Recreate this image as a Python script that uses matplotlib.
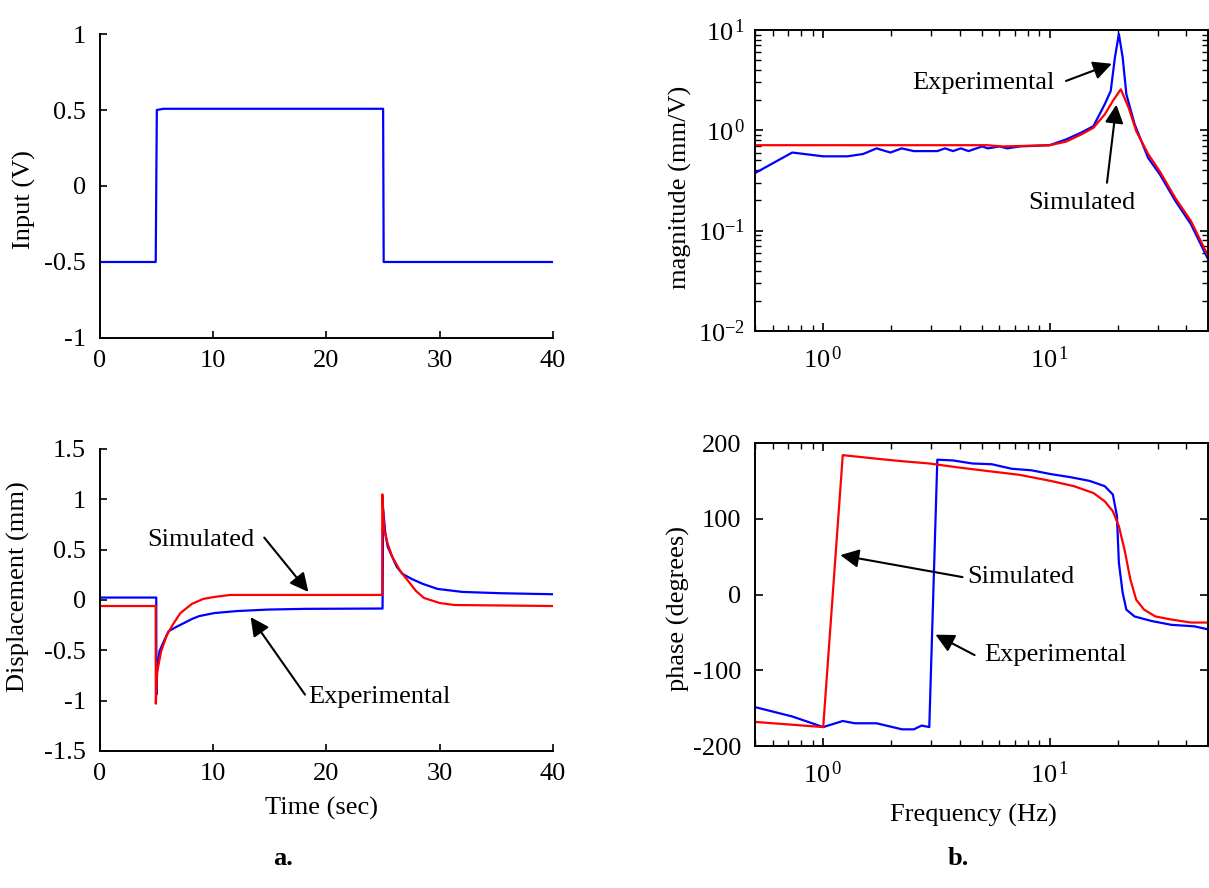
import matplotlib
matplotlib.use("Agg")
import matplotlib.pyplot as plt
import numpy as np
from matplotlib.ticker import LogLocator, NullFormatter, FuncFormatter

plt.rcParams['font.family'] = ['Liberation Serif', 'DejaVu Serif']
plt.rcParams['mathtext.fontset'] = 'custom'
plt.rcParams['mathtext.rm'] = 'Liberation Serif'
plt.rcParams['mathtext.it'] = 'Liberation Serif:italic'
plt.rcParams['axes.unicode_minus'] = False
plt.rcParams['font.size'] = 19

# step input (V)
t_in = [0, 4.92, 5.02, 5.6, 25.0, 25.05, 40]
v_in = [-0.5, -0.5, 0.5, 0.508, 0.508, -0.5, -0.5]

# displacement response (mm)
t_exp = [0, 4.97, 4.98, 5.05, 5.25, 5.6, 6.06, 6.7, 7.4, 8.1, 8.76, 10.1, 12.1,
         14.9, 18.2, 24.95, 25.0, 25.2, 25.4, 25.8, 26.2, 26.7, 27.5, 28.5, 29.8,
         32.0, 35.4, 40.0]
d_exp = [0.024, 0.024, -0.94, -0.70, -0.51, -0.42, -0.31, -0.27, -0.23, -0.19,
         -0.16, -0.13, -0.11, -0.095, -0.088, -0.085, 0.90, 0.66, 0.53, 0.43,
         0.33, 0.26, 0.21, 0.16, 0.11, 0.08, 0.067, 0.057]
t_sim = [0, 4.92, 4.93, 5.04, 5.4, 5.9, 6.4, 7.1, 8.1, 9.1, 10.1, 11.5, 24.92,
         24.93, 25.1, 25.4, 25.8, 26.5, 27.2, 27.9, 28.6, 30.0, 31.3, 40.0]
d_sim = [-0.06, -0.06, -1.03, -0.72, -0.51, -0.35, -0.25, -0.13, -0.04, 0.01,
         0.03, 0.05, 0.05, 1.05, 0.70, 0.56, 0.43, 0.29, 0.19, 0.09, 0.02,
         -0.03, -0.05, -0.06]

# frequency response
f_mag_exp = [0.49, 0.73, 1.0, 1.28, 1.5, 1.72, 1.98, 2.22, 2.51, 3.19, 3.45, 3.74,
             4.05, 4.38, 5.03, 5.33, 6.0, 6.5, 7.35, 8.6, 10.0, 11.8, 13.8, 15.6,
             17.5, 18.6, 19.4, 20.2, 21.0, 21.8, 23.7, 27.2, 30.6, 35.9, 42.0, 50.0]
mag_exp = [0.365, 0.60, 0.55, 0.55, 0.58, 0.66, 0.60, 0.66, 0.62, 0.62, 0.66, 0.62,
           0.66, 0.62, 0.69, 0.66, 0.69, 0.66, 0.69, 0.70, 0.71, 0.81, 0.95, 1.10,
           1.82, 2.47, 5.3, 9.1, 5.3, 2.28, 1.15, 0.53, 0.365, 0.197, 0.116, 0.052]
f_mag_sim = [0.49, 5.3, 6.2, 10.0, 11.8, 13.8, 15.6, 17.5, 19.0, 20.6, 22.3, 24.1,
             27.2, 30.6, 35.9, 42.0, 50.0]
mag_sim = [0.71, 0.71, 0.69, 0.71, 0.77, 0.91, 1.06, 1.44, 1.96, 2.56, 1.68, 0.98,
           0.58, 0.39, 0.21, 0.125, 0.056]

f_ph_exp = [0.49, 0.73, 1.0, 1.22, 1.38, 1.72, 2.23, 2.51, 2.72, 2.94, 3.19, 3.74,
            4.55, 5.55, 6.8, 8.3, 10.1, 12.3, 15.0, 17.5, 19.0, 19.8, 20.2, 21.0,
            21.8, 23.7, 28.2, 34.4, 43.5, 50.0]
ph_exp = [-148, -161, -175, -167, -170, -170, -178, -178, -173, -175, 178, 177,
          173, 172, 166, 164, 159, 155, 150, 143, 132, 104, 42, 2, -20, -29, -35,
          -40, -42, -46]
f_ph_sim = [0.49, 1.0, 1.22, 1.76, 2.23, 2.94, 3.89, 5.33, 7.35, 10.1, 12.8, 15.6,
            17.5, 19.0, 20.2, 21.4, 22.7, 24.1, 26.1, 29.3, 34.4, 42.0, 50.0]
ph_sim = [-168, -175, 184, 179, 176, 173, 168, 163, 158, 150, 143, 134, 123, 110,
          90, 59, 20, -7, -20, -29, -33, -37, -37]

blue = '#0000ff'
red = '#ff0000'
lw = 1.6


def pow10(v, pos):
    e = int(round(np.log10(v)))
    if e >= 0:
        return r'$\mathdefault{10^{\,%d}}$' % e
    return r'$\mathdefault{10^{%d}}$' % e


fig = plt.figure(figsize=(12.09, 8.88), dpi=100)
ax1 = fig.add_axes([0.0827, 0.6194, 0.3747, 0.3423])
ax2 = fig.add_axes([0.0827, 0.1543, 0.3747, 0.3401])
ax3 = fig.add_axes([0.6245, 0.6273, 0.3747, 0.3390])
ax4 = fig.add_axes([0.6245, 0.1599, 0.3747, 0.3412])

for ax in (ax1, ax2, ax3, ax4):
    for s in ax.spines.values():
        s.set_linewidth(1.4)
    ax.tick_params(direction='in', length=5, width=1.2, labelsize=19)

for ax in (ax1, ax2):
    ax.spines['top'].set_visible(False)
    ax.spines['right'].set_visible(False)
    ax.tick_params(axis='x', pad=9)
    ax.tick_params(axis='y', pad=10)
    ax.set_xlim(0, 40)
    ax.set_xticks([0, 10, 20, 30, 40])

for ax in (ax3, ax4):
    ax.set_xscale('log')
    ax.set_xlim(0.5, 50)
    ax.tick_params(which='both', top=True, right=True, direction='in')
    ax.tick_params(which='major', length=6)
    ax.tick_params(which='minor', length=4, width=1.0)
    ax.tick_params(axis='x', pad=11)
    ax.tick_params(axis='y', pad=10)
    ax.xaxis.set_major_locator(LogLocator(base=10, numticks=10))
    ax.xaxis.set_minor_locator(LogLocator(base=10, subs=np.arange(2, 10), numticks=10))
    ax.xaxis.set_minor_formatter(NullFormatter())
    ax.xaxis.set_major_formatter(FuncFormatter(pow10))

# input
ax1.plot(t_in, v_in, color=blue, lw=lw)
ax1.set_ylim(-1, 1)
ax1.set_yticks([-1, -0.5, 0, 0.5, 1])
ax1.set_yticklabels(['-1', '-0.5', '0', '0.5', '1'])
ax1.set_ylabel('Input (V)', va='center')
ax1.yaxis.set_label_coords(-0.166, 0.454)

# displacement
ax2.plot(t_exp, d_exp, color=blue, lw=lw)
ax2.plot(t_sim, d_sim, color=red, lw=lw)
ax2.set_ylim(-1.5, 1.5)
ax2.set_yticks([-1.5, -1, -0.5, 0, 0.5, 1, 1.5])
ax2.set_yticklabels(['-1.5', '-1', '-0.5', '0', '0.5', '1', '1.5'])
ax2.set_ylabel('Displacement (mm)', va='center')
ax2.yaxis.set_label_coords(-0.179, 0.543)
ax2.set_xlabel('Time (sec)', va='center')
ax2.xaxis.set_label_coords(0.488, -0.189)

arrow = dict(arrowstyle='-|>', color='k', lw=1.5, mutation_scale=28,
             shrinkA=0, shrinkB=0)
ax2.annotate('', xy=(18.4, 0.08), xytext=(14.5, 0.62), arrowprops=arrow)
ax2.text(4.15, 0.60, 'Simulated', ha='left', va='center')
ax2.annotate('', xy=(13.3, -0.17), xytext=(18.1, -0.94), arrowprops=arrow)
ax2.text(18.4, -0.96, 'Experimental', ha='left', va='center')

# magnitude
ax3.plot(f_mag_exp, mag_exp, color=blue, lw=lw)
ax3.plot(f_mag_sim, mag_sim, color=red, lw=lw)
ax3.set_yscale('log')
ax3.set_ylim(1e-2, 1e1)
ax3.yaxis.set_major_locator(LogLocator(base=10, numticks=10))
ax3.yaxis.set_minor_locator(LogLocator(base=10, subs=np.arange(2, 10), numticks=10))
ax3.yaxis.set_minor_formatter(NullFormatter())
ax3.yaxis.set_major_formatter(FuncFormatter(pow10))
ax3.tick_params(axis='y', pad=7)
ax3.set_ylabel('magnitude (mm/V)', va='center')
ax3.yaxis.set_label_coords(-0.165, 0.478)
ax3.annotate('', xy=(18.8, 4.6), xytext=(11.8, 3.1), arrowprops=arrow)
ax3.text(2.47, 2.94, 'Experimental', ha='left', va='center')
ax3.annotate('', xy=(19.7, 1.8), xytext=(17.9, 0.30), arrowprops=arrow)
ax3.text(8.07, 0.188, 'Simulated', ha='left', va='center')

# phase
ax4.plot(f_ph_exp, ph_exp, color=blue, lw=lw)
ax4.plot(f_ph_sim, ph_sim, color=red, lw=lw)
ax4.set_ylim(-200, 200)
ax4.set_yticks([-200, -100, 0, 100, 200])
ax4.set_yticklabels(['-200', '-100', '0', '100', '200'])
ax4.set_ylabel('phase (degrees)', va='center')
ax4.yaxis.set_label_coords(-0.170, 0.455)
ax4.set_xlabel('Frequency (Hz)', va='center')
ax4.xaxis.set_label_coords(0.481, -0.228)
ax4.annotate('', xy=(1.19, 52), xytext=(4.12, 23), arrowprops=arrow)
ax4.text(4.34, 23, 'Simulated', ha='left', va='center')
ax4.annotate('', xy=(3.13, -53), xytext=(4.66, -80), arrowprops=arrow)
ax4.text(5.13, -80, 'Experimental', ha='left', va='center')

fig.text(283 / 1209, 1 - 858 / 888, 'a.', ha='center', va='center',
         fontweight='bold', fontsize=19)
fig.text(958 / 1209, 1 - 858 / 888, 'b.', ha='center', va='center',
         fontweight='bold', fontsize=19)

fig.savefig('out.png', dpi=100)
